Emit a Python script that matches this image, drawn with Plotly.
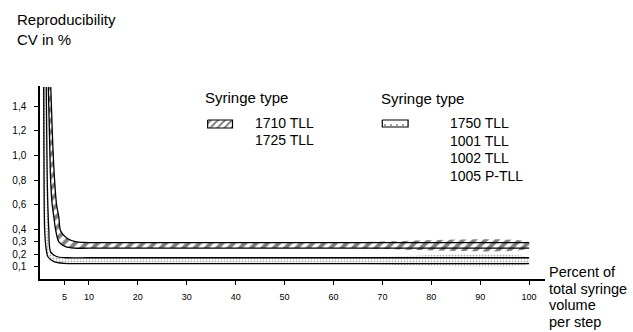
import plotly.graph_objects as go

# ---- data ----
# upper band (syringe 1710 TLL / 1725 TLL), hatched
up_top_x = [2.2, 2.55, 2.98, 3.39, 3.85, 4.2, 5.5, 7.5, 12, 30, 60, 100]
up_top_y = [1.553, 1.15, 0.80, 0.60, 0.50, 0.39, 0.33, 0.30, 0.295, 0.295, 0.295, 0.295]
up_bot_x = [1.7, 1.95, 2.17, 2.5, 2.84, 3.18, 3.85, 5.2, 7.0, 12, 30, 60, 100]
up_bot_y = [1.553, 1.15, 0.80, 0.60, 0.50, 0.40, 0.30, 0.262, 0.25, 0.25, 0.25, 0.25, 0.25]
# lower band (1750 TLL, 1001 TLL, 1002 TLL, 1005 P-TLL), stippled
lo_top_x = [1.28, 1.38, 1.48, 1.6, 1.8, 2.17, 3.5, 5.5, 10, 30, 60, 100]
lo_top_y = [1.553, 1.15, 0.80, 0.60, 0.40, 0.22, 0.18, 0.172, 0.172, 0.172, 0.172, 0.172]
lo_bot_x = [0.75, 0.8, 0.85, 0.95, 1.2, 1.62, 2.84, 4.9, 10, 30, 60, 100]
lo_bot_y = [1.553, 1.0, 0.60, 0.40, 0.26, 0.18, 0.14, 0.126, 0.125, 0.125, 0.125, 0.125]

y_tickvals = [0.1, 0.2, 0.3, 0.4, 0.6, 0.8, 1.0, 1.2, 1.4]
y_ticktext = ["0,1", "0,2", "0,3", "0,4", "0,6", "0,8", "1,0", "1,2", "1,4"]
x_tickvals = [5, 10, 20, 30, 40, 50, 60, 70, 80, 90, 100]

title_lines = ["Reproducibility", "CV in %"]
xtitle_lines = ["Percent of", "total syringe", "volume", "per step"]
legend_heading = "Syringe type"
legend1_items = ["1710 TLL", "1725 TLL"]
legend2_items = ["1750 TLL", "1001 TLL", "1002 TLL", "1005 P-TLL"]

FONT = "Liberation Sans, Arial, sans-serif"
W, H = 633, 332
L, R, T, B = 36, 88, 86, 53
PW, PH = W - L - R, H - T - B

fig = go.Figure()

hatch = dict(shape="/", size=8, solidity=0.5, fgcolor="black", bgcolor="white")
dots = dict(shape=".", size=3, solidity=0.3, fgcolor="#555", bgcolor="white")

# band fills (closed polygons made from the two boundary lines)
fig.add_trace(go.Scatter(
    x=up_top_x + up_bot_x[::-1], y=up_top_y + up_bot_y[::-1],
    mode="lines", fill="toself", fillpattern=hatch, fillcolor="white",
    line=dict(width=0, shape="spline", smoothing=0.8), hoverinfo="skip"))
fig.add_trace(go.Scatter(
    x=lo_top_x + lo_bot_x[::-1], y=lo_top_y + lo_bot_y[::-1],
    mode="lines", fill="toself", fillpattern=dots, fillcolor="white",
    line=dict(width=0, shape="spline", smoothing=0.8), hoverinfo="skip"))

for xs, ys in [(up_top_x, up_top_y), (up_bot_x, up_bot_y),
               (lo_top_x, lo_top_y), (lo_bot_x, lo_bot_y)]:
    fig.add_trace(go.Scatter(x=xs, y=ys, mode="lines",
                             line=dict(color="black", width=1.3, shape="spline", smoothing=0.8),
                             hoverinfo="skip"))

# legend swatches on a pixel overlay axis
fig.add_trace(go.Scatter(x=[205, 230, 230, 205, 205], y=[120, 120, 128, 128, 120],
                         xaxis="x2", yaxis="y2", mode="lines", fill="toself",
                         fillpattern=dict(shape="/", size=5, solidity=0.4, fgcolor="black", bgcolor="white"),
                         fillcolor="white", line=dict(color="black", width=1.2), hoverinfo="skip"))
fig.add_trace(go.Scatter(x=[381, 407, 407, 381, 381], y=[120, 120, 127, 127, 120],
                         xaxis="x2", yaxis="y2", mode="lines", fill="toself",
                         fillpattern=dict(shape=".", size=6, solidity=0.08, fgcolor="black", bgcolor="white"),
                         fillcolor="white", line=dict(color="black", width=1.2), hoverinfo="skip"))

ann = []
def txt(px, py, s, size):
    ann.append(dict(x=(px - L) / PW, y=(H - B - py) / PH, xref="paper", yref="paper",
                    text=s, showarrow=False, xanchor="left", yanchor="middle",
                    font=dict(family=FONT, size=size, color="black")))

for i, s in enumerate(title_lines):
    txt(11, 20 + 19 * i, s, 15)
for i, s in enumerate(xtitle_lines):
    txt(547, 272 + 16.5 * i, s, 14.5)
txt(200, 97, legend_heading, 15)
txt(378, 98, legend_heading, 15)
for i, s in enumerate(legend1_items):
    txt(251, 123 + 17 * i, s, 14)
for i, s in enumerate(legend2_items):
    txt(447, 123 + 17.5 * i, s, 14)

fig.update_layout(
    width=W, height=H, margin=dict(l=L, r=R, t=T, b=B),
    paper_bgcolor="white", plot_bgcolor="white", showlegend=False,
    annotations=ann,
    xaxis=dict(range=[0, 103.25], tickvals=x_tickvals, ticks="outside", ticklen=4,
               tickcolor="black", showline=True, linecolor="black", linewidth=1.5,
               showgrid=False, zeroline=False, ticklabelstandoff=4,
               tickfont=dict(family=FONT, size=9, color="black")),
    yaxis=dict(range=[0, 1.562], tickvals=y_tickvals, ticktext=y_ticktext,
               ticks="outside", ticklen=4, tickcolor="black", showline=True,
               linecolor="black", linewidth=1.5, showgrid=False, zeroline=False,
               ticklabelstandoff=6, tickfont=dict(family=FONT, size=10, color="black")),
    xaxis2=dict(overlaying="x", range=[L, W - R], visible=False),
    yaxis2=dict(overlaying="y", range=[H - B, T], visible=False),
)

fig.write_html("out.html")
